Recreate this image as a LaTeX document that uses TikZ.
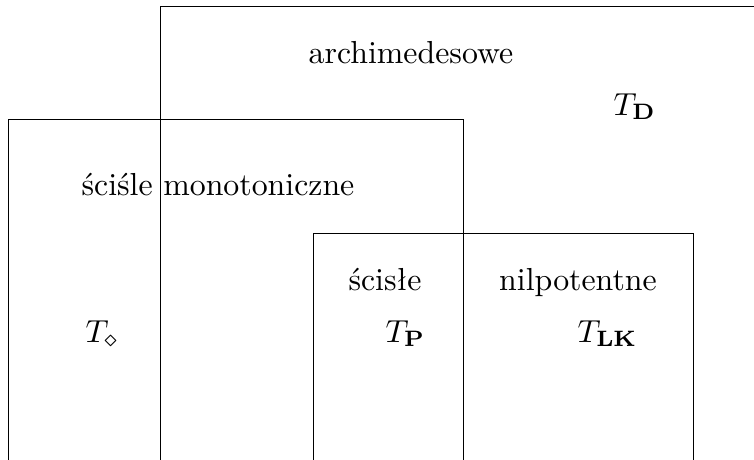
\documentclass[tikz,border=0pt]{standalone}
\usepackage[no-math]{fontspec}
\begin{document}
\begin{tikzpicture}[x=0.314pt,y=-0.314pt,
  setbox/.style={draw=black,line width=0.3pt},
  lbl/.style={inner sep=0pt,anchor=base},
  tlbl/.style={inner sep=0pt,anchor=base west}]
\useasboundingbox (0,0) rectangle (754,459);
\begin{scope}
\clip (0,0) rectangle (754,459);
\draw[setbox] (160,470) -- (160,6) -- (770,6);
\draw[setbox] (8,470) -- (8,119) -- (463,119) -- (463,470);
\draw[setbox] (313,470) -- (313,233) -- (693,233) -- (693,470);
\end{scope}
\node[lbl] (arch) at (411,63) {archimedesowe};
\node[tlbl] (td) at (613,115) {$T_{\mathbf{D}}$};
\node[lbl] (mono) at (218,195) {ściśle monotoniczne};
\node[lbl] (sc) at (385,290) {ścisłe};
\node[lbl] (nil) at (578,290) {nilpotentne};
\node[tlbl] (tdia) at (85,342) {$T_\diamond$};
\node[tlbl] (tp) at (385,342) {$T_{\mathbf{P}}$};
\node[tlbl] (tlk) at (577,342) {$T_{\mathbf{LK}}$};
\end{tikzpicture}
\end{document}
